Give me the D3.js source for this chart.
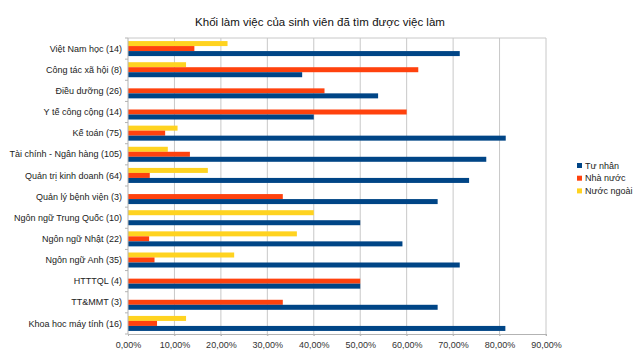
<!DOCTYPE html>
<html>
<head>
<meta charset="utf-8">
<script src="https://cdn.jsdelivr.net/npm/d3@7"></script>
<style>
  body { margin: 0; background: #fff; }
  text { font-family: "Liberation Sans", Arial, sans-serif; }
</style>
</head>
<body>
<div id="chart"></div>
<script>
"use strict";

// categories, top to bottom
var categories = [
    "Việt Nam học (14)", "Công tác xã hội (8)", "Điều dưỡng (26)", "Y tế công cộng (14)",
    "Kế toán (75)", "Tài chính - Ngân hàng (105)", "Quản trị kinh doanh (64)",
    "Quản lý bệnh viện (3)", "Ngôn ngữ Trung Quốc (10)", "Ngôn ngữ Nhật (22)",
    "Ngôn ngữ Anh (35)", "HTTTQL (4)", "TT&MMT (3)", "Khoa hoc máy tính (16)"
];
var seriesNames = ["Nước ngoài", "Nhà nước", "Tư nhân"];
var nuocNgoai = [21.43, 12.5, 0, 0, 10.67, 8.57, 17.19, 0, 40, 36.36, 22.86, 0, 0, 12.5];
var nhaNuoc   = [14.29, 62.5, 42.31, 60, 8, 13.33, 4.69, 33.33, 0, 4.55, 5.71, 50, 33.33, 6.25];
var tuNhan    = [71.43, 37.5, 53.85, 40, 81.33, 77.14, 73.44, 66.67, 50, 59.09, 71.43, 50, 66.67, 81.25];
var ticks = [0, 10, 20, 30, 40, 50, 60, 70, 80, 90];
var colors = ["#ffd320", "#ff420e", "#004586"];
var legendOrder = [2, 1, 0];

var width = 640, height = 358;
var margin = {top: 38, right: 94, bottom: 24, left: 128};
var values = [nuocNgoai, nhaNuoc, tuNhan];

var svg = d3.select("#chart").append("svg")
    .attr("width", width)
    .attr("height", height);

var x = d3.scaleLinear().domain([0, 90]).range([margin.left, width - margin.right]);
var y0 = d3.scaleBand().domain(categories)
    .range([margin.top, height - margin.bottom])
    .paddingInner(0.29).paddingOuter(0.145);
var y1 = d3.scaleBand().domain(d3.range(3)).range([0, y0.bandwidth()]);

svg.append("text")
    .attr("x", 320).attr("y", 26)
    .attr("text-anchor", "middle")
    .attr("font-size", 11.5)
    .attr("fill", "#111")
    .text("Khối làm việc của sinh viên đã tìm được việc làm");

// grid
svg.append("g").selectAll("line")
    .data(ticks.slice(1))
    .enter().append("line")
    .attr("x1", d => x(d)).attr("x2", d => x(d))
    .attr("y1", margin.top).attr("y2", height - margin.bottom + 2)
    .attr("stroke", "#c8c8c8");

svg.append("line")
    .attr("x1", margin.left).attr("x2", x(90))
    .attr("y1", margin.top).attr("y2", margin.top)
    .attr("stroke", "#c8c8c8");

// bars
var group = svg.append("g").selectAll("g")
    .data(categories)
    .enter().append("g")
    .attr("transform", d => "translate(0," + y0(d) + ")");

group.selectAll("rect")
    .data((d, i) => values.map((v, s) => ({s: s, v: v[i]})))
    .enter().append("rect")
    .attr("x", x(0))
    .attr("y", d => y1(d.s))
    .attr("width", d => x(d.v) - x(0))
    .attr("height", y1.bandwidth())
    .attr("fill", d => colors[d.s]);

// value axis
var xAxis = svg.append("g")
    .attr("transform", "translate(0," + (height - margin.bottom) + ")")
    .call(d3.axisBottom(x).tickValues(ticks).tickSize(2).tickPadding(6)
        .tickFormat(d => d.toFixed(2).replace(".", ",") + "%"));
xAxis.select(".domain").attr("stroke", "#b3b3b3");
xAxis.selectAll(".tick line").attr("stroke", "#b3b3b3");
xAxis.selectAll("text").attr("font-size", 9).attr("fill", "#333")
    .style("font-family", "Liberation Sans, Arial, sans-serif");

// category axis
var step = y0.step();
var bounds = d3.range(categories.length + 1).map(i => margin.top + i * step);
svg.append("g").selectAll("line")
    .data(bounds)
    .enter().append("line")
    .attr("x1", margin.left - 3).attr("x2", margin.left)
    .attr("y1", d => d).attr("y2", d => d)
    .attr("stroke", "#b3b3b3");
svg.append("line")
    .attr("x1", margin.left).attr("x2", margin.left)
    .attr("y1", margin.top).attr("y2", height - margin.bottom)
    .attr("stroke", "#b3b3b3");

svg.append("g").selectAll("text")
    .data(categories)
    .enter().append("text")
    .attr("x", margin.left - 6)
    .attr("y", d => y0(d) + y0.bandwidth() / 2)
    .attr("dy", "0.35em")
    .attr("text-anchor", "end")
    .attr("font-size", 9)
    .attr("fill", "#222")
    .text(d => d);

// legend
var legend = svg.append("g").selectAll("g")
    .data(legendOrder)
    .enter().append("g")
    .attr("transform", (d, i) => "translate(577," + (163 + i * 12.7) + ")");
legend.append("rect")
    .attr("width", 5).attr("height", 5)
    .attr("fill", d => colors[d]);
legend.append("text")
    .attr("x", 8).attr("y", 2.5).attr("dy", "0.35em")
    .attr("font-size", 9).attr("fill", "#222")
    .text(d => seriesNames[d]);
</script>
</body>
</html>
